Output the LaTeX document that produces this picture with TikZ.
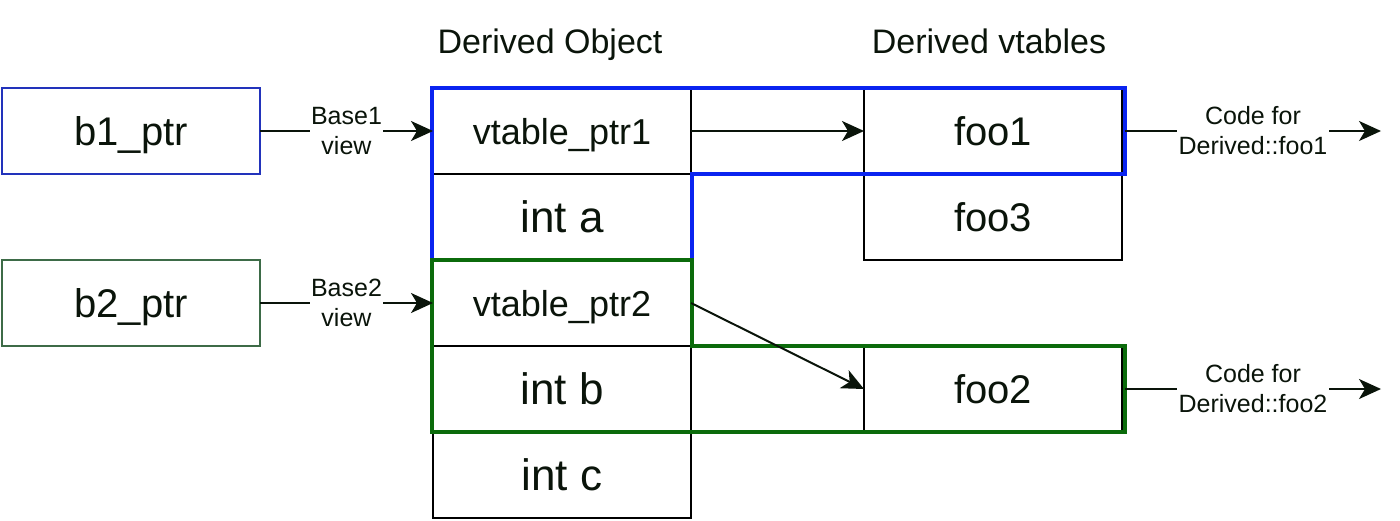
\documentclass[tikz,border=0pt]{standalone}
\usepackage{fontspec}
\setmainfont{Liberation Sans}
\usetikzlibrary{arrows.meta}
\definecolor{bblue}{HTML}{0A24F0}
\definecolor{ggreen}{HTML}{0B6B0B}
\definecolor{bonec}{HTML}{2233BB}
\definecolor{btwoc}{HTML}{3D6B47}
\definecolor{ink}{HTML}{0A140A}
\tikzset{
  cell/.style={draw=black, line width=2pt, fill=white, minimum width=258pt, minimum height=86pt,
    inner sep=0pt, outer sep=0pt, text=ink},
  fbig/.style={font=\fontsize{44}{50}\selectfont, text height=31.5pt, text depth=0pt},
  fmid/.style={font=\fontsize{36}{42}\selectfont, text height=26pt, text depth=0pt},
  ffoo/.style={font=\fontsize{40}{46}\selectfont, text height=29pt, text depth=0pt},
  conn/.style={draw=ink, line width=2pt, -{Stealth[length=22pt,width=20pt,inset=6pt]}},
  lbl/.style={fill=white, align=center, font=\fontsize{25}{30}\selectfont, inner sep=1.5pt, text=ink},
  ttl/.style={font=\fontsize{34}{40}\selectfont, text=ink, anchor=base, inner sep=0pt},
  grp/.style={line width=4pt, line join=miter}
}
\begin{document}
\begin{tikzpicture}[x=1pt,y=-1pt]
\useasboundingbox (0,0) rectangle (1400,520);

% titles
\node[ttl] (tobj) at (550,53) {Derived Object};
\node[ttl] (tvt) at (989,53) {Derived vtables};

% base pointers
\node[cell, draw=bonec, ffoo] (b1) at (131,131) {b1\_ptr};
\node[cell, draw=btwoc, ffoo] (b2) at (131,303) {b2\_ptr};

% derived object
\node[cell, fmid] (vp1) at (562,131) {vtable\_ptr1};
\node[cell, fbig] (ia) at (562,217) {int a};
\node[cell, fmid] (vp2) at (562,303) {vtable\_ptr2};
\node[cell, fbig] (ib) at (562,389) {int b};
\node[cell, fbig] (ic) at (562,475) {int c};

% vtables
\node[cell, ffoo] (f1) at (993,131) {foo1};
\node[cell, ffoo] (f3) at (993,217) {foo3};
\node[cell, ffoo] (f2) at (993,389) {foo2};

% group outlines
\draw[grp, bblue] (432,88) -- (1125,88) -- (1125,174) -- (692,174) -- (692,260) -- (432,260) -- cycle;
\draw[grp, ggreen] (432,260) -- (692,260) -- (692,346) -- (1125,346) -- (1125,432) -- (432,432) -- cycle;

% free ends
\coordinate (o1) at (1381,131);
\coordinate (o2) at (1381,389);

% connectors
\draw[conn] (b1.east) -- node[lbl] {Base1\\view} (vp1.west);
\draw[conn] (b2.east) -- node[lbl] {Base2\\view} (vp2.west);
\draw[conn] (vp1.east) -- (f1.west);
\draw[conn] (vp2.east) -- (f2.west);
\draw[conn] (1125,131) -- node[lbl] {Code for\\Derived::foo1} (o1);
\draw[conn] (1125,389) -- node[lbl] {Code for\\Derived::foo2} (o2);
\end{tikzpicture}
\end{document}
